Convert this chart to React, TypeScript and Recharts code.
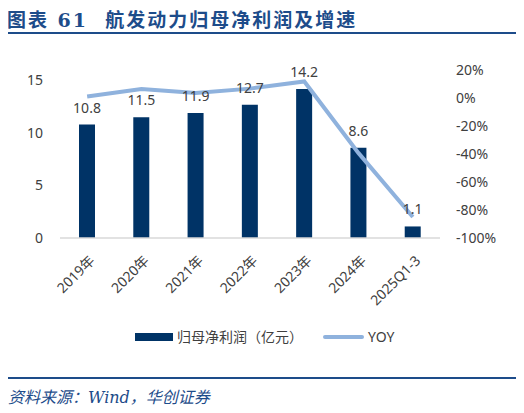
import { Bar, ComposedChart, LabelList, Line, XAxis, YAxis } from 'recharts'

const periods = ['2019年', '2020年', '2021年', '2022年', '2023年', '2024年', '2025Q1-3']
const netProfit = [10.8, 11.5, 11.9, 12.7, 14.2, 8.6, 1.1]
const yoy = [0.01, 0.065, 0.035, 0.067, 0.118, -0.394, -0.85]
const leftTicks = [0, 5, 10, 15]
const rightTicks = [-1, -0.8, -0.6, -0.4, -0.2, 0, 0.2]

const data = periods.map((name, i) => ({ name, profit: netProfit[i], yoy: yoy[i] }))

const font = '"Noto Sans", "Noto Sans CJK SC", sans-serif'
const textColor = '#404040'

const XTick = (props: any) => {
  const { x, y, payload } = props
  return (
    <g transform={`translate(${x + 5},${y + 12})`}>
      <text
        textAnchor="end"
        transform="rotate(-45)"
        fontSize={14}
        fill={textColor}
        fontFamily={font}
        dy="0.35em"
      >
        {payload.value}
      </text>
    </g>
  )
}

const App = () => {
  return (
    <div style={{ position: 'relative', width: 524, height: 413, margin: -8, background: '#fff', fontFamily: font }}>
      <div
        style={{
          position: 'absolute',
          left: 7,
          top: 5,
          fontSize: 19,
          letterSpacing: 2,
          fontWeight: 'bold',
          color: '#1D4C8A',
          fontFamily: '"DejaVu Serif", "Noto Sans CJK SC", serif',
          whiteSpace: 'pre',
        }}
      >
        {'图表 61  航发动力归母净利润及增速'}
      </div>
      <div style={{ position: 'absolute', left: 5, top: 32, width: 512, height: 2, background: '#1D4C8A' }} />

      <div style={{ position: 'absolute', left: 0, top: 0 }}>
        <ComposedChart width={524} height={320} data={data} margin={{ top: 70, right: 24, bottom: 0, left: 0 }}>
          <XAxis
            dataKey="name"
            tick={<XTick />}
            tickLine={false}
            axisLine={{ stroke: '#D9D9D9', strokeWidth: 1.5 }}
            interval={0}
            height={82}
          />
          <YAxis
            yAxisId="left"
            domain={[0, 16]}
            ticks={leftTicks}
            axisLine={false}
            tickLine={false}
            width={60}
            tickMargin={11}
            tick={{ fontSize: 14, fill: textColor, fontFamily: font }}
          />
          <YAxis
            yAxisId="right"
            orientation="right"
            domain={[-1, 0.2]}
            ticks={rightTicks}
            axisLine={false}
            tickLine={false}
            width={60}
            tickMargin={10}
            tickFormatter={(v: number) => `${Math.round(v * 100)}%`}
            tick={{ fontSize: 14, fill: textColor, fontFamily: font, textAnchor: 'start' }}
          />
          <Bar yAxisId="left" dataKey="profit" fill="#003366" barSize={16} isAnimationActive={false}>
            <LabelList
              dataKey="profit"
              position="top"
              offset={12}
              fontSize={14}
              fill={textColor}
              fontFamily={font}
              formatter={(v: any) => Number(v).toFixed(1)}
            />
          </Bar>
          <Line
            yAxisId="right"
            dataKey="yoy"
            stroke="#8FB2DD"
            strokeWidth={4}
            dot={false}
            type="linear"
            isAnimationActive={false}
          />
        </ComposedChart>
      </div>

      <div style={{ position: 'absolute', left: 135, top: 333, width: 38, height: 8, background: '#003366' }} />
      <div style={{ position: 'absolute', left: 177, top: 327, fontSize: 14, color: textColor, lineHeight: '20px' }}>
        归母净利润（亿元）
      </div>
      <div style={{ position: 'absolute', left: 323, top: 335, width: 41, height: 4, background: '#8FB2DD', borderRadius: 2 }} />
      <div style={{ position: 'absolute', left: 368, top: 327, fontSize: 14, color: textColor, lineHeight: '20px' }}>
        YOY
      </div>

      <div style={{ position: 'absolute', left: 5, top: 377, width: 512, height: 2, background: '#1D4C8A' }} />
      <div
        style={{
          position: 'absolute',
          left: 8,
          top: 388,
          fontSize: 16,
          lineHeight: '20px',
          fontStyle: 'italic',
          color: '#1D4C8A',
          fontFamily: '"DejaVu Serif", "Noto Sans CJK SC", serif',
          whiteSpace: 'pre',
        }}
      >
        资料来源：Wind，华创证券
      </div>
    </div>
  )
}

export default App
